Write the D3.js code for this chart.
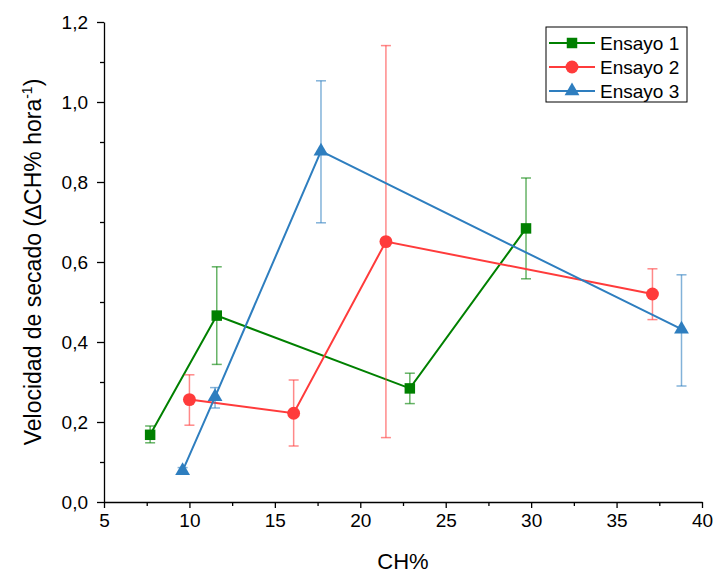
<!DOCTYPE html>
<html>
<head>
<meta charset="utf-8">
<script src="https://cdn.jsdelivr.net/npm/d3@7"></script>
<style>
  body { margin: 0; background: #fff; }
  svg, svg text { font-family: "Liberation Sans", Arial, sans-serif; }
  .tick text { font-size: 19px; fill: #000; }
</style>
</head>
<body>
<svg width="714" height="575"></svg>
<script>
// data
var seriesNames = ["Ensayo 1", "Ensayo 2", "Ensayo 3"];
var seriesColors = ["#008000", "#ff3b3b", "#2e7ebf"];
var seriesShapes = [d3.symbolSquare, d3.symbolCircle, d3.symbolTriangle];

var ch1 = [7.7, 11.6, 22.9, 29.7];
var vel1 = [0.168, 0.466, 0.284, 0.684];
var low1 = [0.148, 0.344, 0.246, 0.558];
var high1 = [0.190, 0.588, 0.322, 0.810];

var ch2 = [10.0, 16.1, 21.5, 37.1];
var vel2 = [0.256, 0.222, 0.651, 0.520];
var low2 = [0.192, 0.140, 0.161, 0.456];
var high2 = [0.318, 0.305, 1.141, 0.583];

var ch3 = [9.6, 11.5, 17.7, 38.8];
var vel3 = [0.078, 0.263, 0.877, 0.432];
var low3 = [0.070, 0.235, 0.698, 0.290];
var high3 = [0.086, 0.286, 1.053, 0.568];

var xTicks = [5, 10, 15, 20, 25, 30, 35, 40];
var yTicks = [0, 0.2, 0.4, 0.6, 0.8, 1.0, 1.2];

var svg = d3.select("svg"),
    margin = {top: 22, right: 12, bottom: 73, left: 104};
var width = +svg.attr("width") - margin.left - margin.right,
    height = +svg.attr("height") - margin.top - margin.bottom;

var g = svg.append("g").attr("transform", "translate(" + margin.left + "," + margin.top + ")");

var x = d3.scaleLinear().domain([5, 40]).range([0, width]);
var y = d3.scaleLinear().domain([0, 1.2]).range([height, 0]);

var fmt = function(d) { return d3.format(".1f")(d).replace(".", ","); };

// minor ticks first
g.append("g")
    .attr("transform", "translate(0," + height + ")")
    .call(d3.axisBottom(x).tickValues(d3.range(7.5, 40, 5)).tickSize(4).tickFormat(""))
    .call(function(a) { a.select(".domain").remove(); });
g.append("g")
    .call(d3.axisLeft(y).tickValues(d3.range(0.1, 1.2, 0.2)).tickSize(4).tickFormat(""))
    .call(function(a) { a.select(".domain").remove(); });

var xAxis = g.append("g")
    .attr("transform", "translate(0," + height + ")")
    .call(d3.axisBottom(x).tickValues(xTicks).tickSize(6).tickSizeOuter(0).tickPadding(6));

var yAxis = g.append("g")
    .call(d3.axisLeft(y).tickValues(yTicks).tickSize(7).tickSizeOuter(0).tickPadding(9).tickFormat(fmt));

svg.selectAll(".domain, .tick line").attr("stroke", "#000").attr("stroke-width", 1.3);
svg.selectAll("g").attr("font-family", null).attr("font-size", null);

// axis titles
svg.append("text")
    .attr("x", margin.left + width / 2)
    .attr("y", 569)
    .attr("text-anchor", "middle")
    .attr("font-size", 22)
    .text("CH%");

var yt = svg.append("text")
    .attr("transform", "translate(41," + (margin.top + height / 2) + ") rotate(-90)")
    .attr("text-anchor", "middle")
    .attr("font-size", 23);
yt.append("tspan").text("Velocidad de secado (\u2206CH% hora");
yt.append("tspan").attr("font-size", 14).attr("dy", -9).text("-1");
yt.append("tspan").attr("dy", 9).text(")");

var series = [
  {xs: ch1, ys: vel1, lo: low1, hi: high1},
  {xs: ch2, ys: vel2, lo: low2, hi: high2},
  {xs: ch3, ys: vel3, lo: low3, hi: high3}
];

var line = d3.line()
    .x(function(d) { return x(d.x); })
    .y(function(d) { return y(d.y); });

var symSizes = [110, 130, 95];

series.forEach(function(s, k) {
  var pts = s.xs.map(function(v, i) { return {x: v, y: s.ys[i], lo: s.lo[i], hi: s.hi[i]}; });
  var col = seriesColors[k];

  // error bars
  var eb = g.append("g").attr("stroke", col).attr("stroke-opacity", 0.6).attr("stroke-width", 1.5);
  pts.forEach(function(p) {
    eb.append("line").attr("x1", x(p.x)).attr("x2", x(p.x)).attr("y1", y(p.lo)).attr("y2", y(p.hi));
    eb.append("line").attr("x1", x(p.x) - 5).attr("x2", x(p.x) + 5).attr("y1", y(p.lo)).attr("y2", y(p.lo));
    eb.append("line").attr("x1", x(p.x) - 5).attr("x2", x(p.x) + 5).attr("y1", y(p.hi)).attr("y2", y(p.hi));
  });

  g.append("path")
      .datum(pts)
      .attr("fill", "none")
      .attr("stroke", col)
      .attr("stroke-width", 2)
      .attr("d", line);

  g.selectAll(".pt" + k)
    .data(pts)
    .enter().append("path")
      .attr("transform", function(d) { return "translate(" + x(d.x) + "," + y(d.y) + ")"; })
      .attr("d", d3.symbol().type(seriesShapes[k]).size(symSizes[k]))
      .attr("fill", col);
});

// legend
var lg = svg.append("g").attr("transform", "translate(546,27)");
lg.append("rect").attr("width", 141).attr("height", 75)
    .attr("fill", "#fff").attr("stroke", "#000").attr("stroke-width", 1);
seriesNames.forEach(function(name, k) {
  var yy = 16 + k * 24;
  lg.append("line").attr("x1", 3).attr("x2", 49).attr("y1", yy).attr("y2", yy)
      .attr("stroke", seriesColors[k]).attr("stroke-width", 2);
  lg.append("path").attr("transform", "translate(26," + yy + ")")
      .attr("d", d3.symbol().type(seriesShapes[k]).size(symSizes[k]))
      .attr("fill", seriesColors[k]);
  lg.append("text").attr("x", 54).attr("y", yy + 7).attr("font-size", 19).text(name);
});
</script>
</body>
</html>
